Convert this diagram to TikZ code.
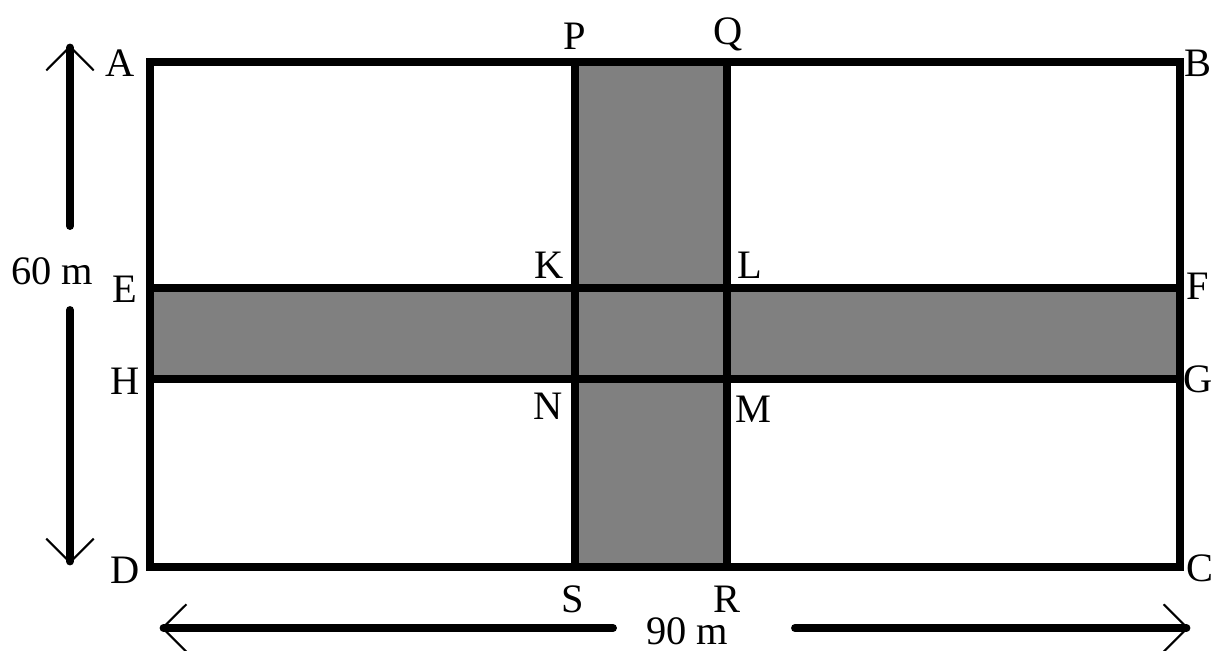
\documentclass[tikz,border=0pt]{standalone}
\usepackage{fontspec}
\setmainfont{Liberation Serif}
\usepackage{tikz}
\usetikzlibrary{arrows.meta}
\definecolor{roadgray}{RGB}{128,128,128}

\begin{document}
\begin{tikzpicture}[
  x=0.02cm,y=-0.02cm,
  wall/.style={line width=4.5pt},
  road/.style={fill=roadgray},
  lbl/.style={font=\fontsize{23}{26}\selectfont,inner sep=0pt},
  dim/.style={line width=4.5pt,line cap=round,-{Straight Barb[length=0.48cm,width=0.95cm,line width=1.2pt]}}
]
\useasboundingbox (0,0) rectangle (1217,650);
% corners of the field and the roads
\coordinate (A) at (150,62);  \coordinate (B) at (1180,62);
\coordinate (C) at (1180,567); \coordinate (D) at (150,567);
\coordinate (P) at (575,62);  \coordinate (Q) at (727,62);
\coordinate (S) at (575,567); \coordinate (R) at (727,567);
\coordinate (E) at (150,288); \coordinate (F) at (1180,288);
\coordinate (H) at (150,379); \coordinate (G) at (1180,379);
\fill[road] (P) rectangle (R);
\fill[road] (E) rectangle (G);
\draw[wall] (A) rectangle (C);
\draw[wall] (P) -- (S);
\draw[wall] (Q) -- (R);
\draw[wall] (E) -- (F);
\draw[wall] (H) -- (G);
% letters
\foreach \n/\x/\y in {A/120/63,B/1198/63,C/1200/568,D/125/570,P/575/36,Q/728/34,
    R/727/599,S/573/599,E/125/289,F/1198/286,G/1198/379,H/125/381,
    K/549/265,L/750/265,M/753/409,N/548/406}
  \node[lbl] (lbl\n) at (\x,\y) {\n};
% dimensions
\node[lbl] (wide) at (52,271) {60 m};
\node[lbl] (long) at (687,631) {90 m};
\coordinate (w1) at (70,226); \coordinate (w2) at (70,45);
\coordinate (w3) at (70,310); \coordinate (w4) at (70,564);
\coordinate (l1) at (613,628); \coordinate (l2) at (161,628);
\coordinate (l3) at (795,628); \coordinate (l4) at (1189,628);
\draw[dim] (w1) -- (w2);
\draw[dim] (w3) -- (w4);
\draw[dim] (l1) -- (l2);
\draw[dim] (l3) -- (l4);
\end{tikzpicture}
\end{document}
